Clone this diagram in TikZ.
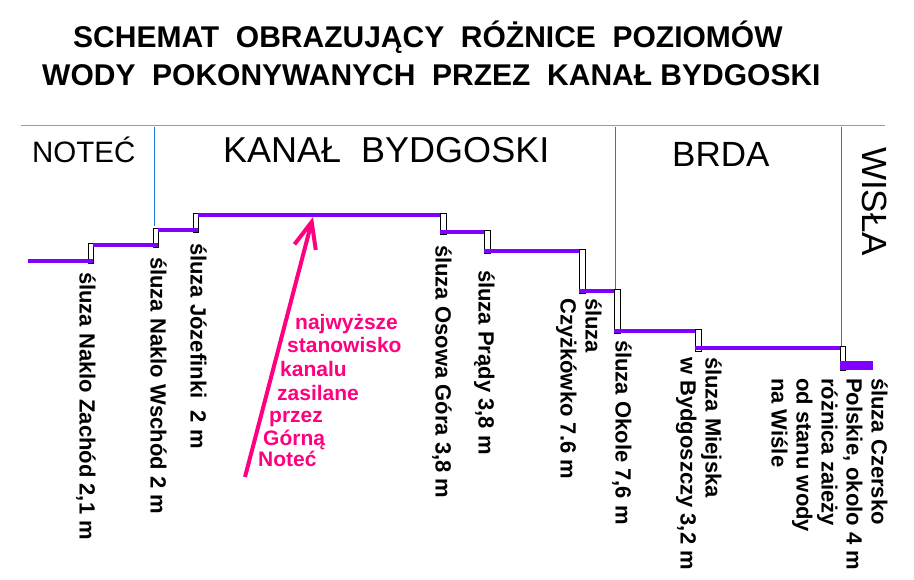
\documentclass[tikz,border=0pt]{standalone}
\usepackage{fontspec}
\setmainfont{Liberation Sans}
\usetikzlibrary{arrows.meta}
\definecolor{fiolet}{RGB}{128,0,255}
\definecolor{rozowy}{RGB}{255,0,128}
\definecolor{pomarancz}{RGB}{240,130,70}
\definecolor{niebieski}{RGB}{30,120,220}

\begin{document}
\begin{tikzpicture}[x=1pt,y=-1pt,
	poziom/.style={draw=fiolet,line width=4.5pt},
	sluza/.style={draw=black,fill=white,line width=0.8pt},
	granica/.style={draw=niebieski,line width=0.8pt},
	tytul/.style={anchor=base west,inner sep=0pt,font=\bfseries\fontsize{30}{32}\selectfont},
	opis/.style={rotate=-90,anchor=north west,inner sep=0pt,align=left,font=\bfseries\fontsize{22}{25}\selectfont},
	rzeka/.style={anchor=base west,inner sep=0pt,font=\fontsize{36}{40}\selectfont},
	uwaga/.style={anchor=base west,inner sep=0pt,text=rozowy,font=\bfseries\fontsize{21}{24}\selectfont},
	strzalka/.style={draw=rozowy,line width=4pt,-{Straight Barb[length=26pt,width=22pt]}}]
		\useasboundingbox (0,0) rectangle (914,580);
		\node[tytul] (tytul1) at (73,48) {SCHEMAT\ \ OBRAZUJĄCY\ \ RÓŻNICE\ \ POZIOMÓW};
		\node[tytul] (tytul2) at (42,86) {WODY\ \ POKONYWANYCH\ \ PRZEZ\ \ KANAŁ BYDGOSKI};
		\draw[draw=pomarancz,line width=0.8pt] (21,125) to (885,125);
		\draw[granica] (154,127) to (154,226);
		\draw[granica] (615,127) to (615,289);
		\draw[granica] (841,127) to (841,346);
		\node[rzeka,font=\fontsize{29.5}{32}\selectfont] (notec) at (32,163) {NOTEĆ};
		\node[rzeka] (kanal) at (223,163) {KANAŁ\ \ BYDGOSKI};
		\node[rzeka,font=\fontsize{35}{40}\selectfont] (brda) at (672,167) {BRDA};
		\node[rzeka,font=\fontsize{35}{40}\selectfont,rotate=-90,anchor=north west] (wisla) at (887,147) {WISŁA};
		% sluzy
		\draw[sluza] (88,243) rectangle (93,263);
		\draw[sluza] (153,228) rectangle (158,247);
		\draw[sluza] (193,213) rectangle (198,232);
		\draw[sluza] (440,213) rectangle (446,234);
		\draw[sluza] (484,230) rectangle (490,253);
		\draw[sluza] (579,249) rectangle (585,293);
		\draw[sluza] (614,289) rectangle (620,333);
		\draw[sluza] (695,329) rectangle (701,351);
		\draw[sluza] (840,346) rectangle (845,370);
		% poziomy wody
		\draw[poziom] (28,261) to (93,261);
		\draw[poziom] (93,245) to (158,245);
		\draw[poziom] (158,230) to (198,230);
		\draw[poziom] (198,215) to (440,215);
		\draw[poziom] (440,232) to (484,232);
		\draw[poziom] (484,251) to (579,251);
		\draw[poziom] (579,291) to (614,291);
		\draw[poziom] (614,331) to (695,331);
		\draw[poziom] (695,348) to (840,348);
		\fill[fiolet] (840,361) rectangle (873,370);
		% opisy sluz
		\node[opis] (zachod) at (96,272) {śluza Naklo Zachód 2,1 m};
		\node[opis] (wschod) at (167,257) {śluza Naklo Wschód 2 m};
		\node[opis] (jozefinki) at (207,243) {śluza Józefinki\ \ 2 m};
		\node[opis] (osowa) at (452,245) {śluza Osowa Góra 3,8 m};
		\node[opis] (prady) at (495,270) {śluza Prądy 3,8 m};
		\node[opis] (czyzkowko) at (602,298) {śluza\\Czyżkówko 7.6 m};
		\node[opis] (okole) at (632,340) {śluza Okole 7,6 m};
		\node[opis] (miejska) at (722,357) {śluza Miejska\\w Bydgoszczy 3,2 m};
		\node[opis] (czersko) at (888,378) {śluza Czersko\\Polskie, okolo 4 m\\różnica zaieży\\od stanu wody\\na Wiśle};
		% najwyzsze stanowisko
		\coordinate (zrodlo) at (245,477);
		\coordinate (szczyt) at (313,217);
		\draw[strzalka] (zrodlo) to (szczyt);
		\node[uwaga] (u1) at (295,330) {najwyższe};
		\node[uwaga] (u2) at (287,353) {stanowisko};
		\node[uwaga] (u3) at (280,377) {kanalu};
		\node[uwaga] (u4) at (277,400) {zasilane};
		\node[uwaga] (u5) at (269,422) {przez};
		\node[uwaga] (u6) at (263,445) {Górną};
		\node[uwaga] (u7) at (258,466) {Noteć};
\end{tikzpicture}
\end{document}
